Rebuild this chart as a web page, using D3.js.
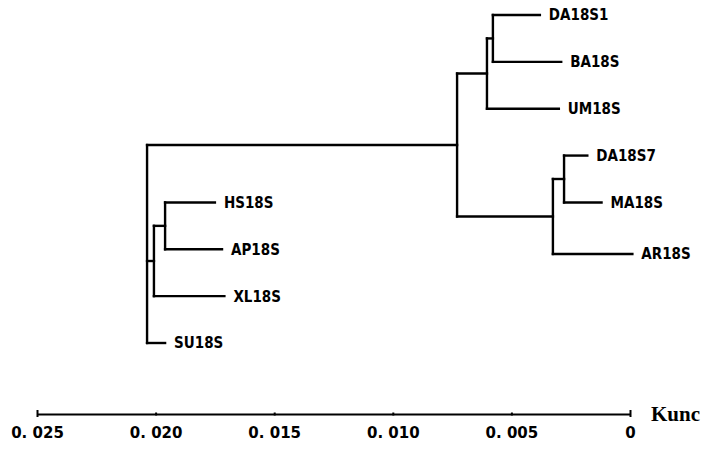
<!DOCTYPE html>
<html>
<head>
<meta charset="utf-8">
<script src="https://cdn.jsdelivr.net/npm/d3@7"></script>
<style>
  body { margin: 0; background: #fff; }
  .leaf { font-family: "Liberation Sans Narrow", "DejaVu Sans Condensed", sans-serif; font-weight: bold; font-size: 15px; }
  .axis text { font-family: "DejaVu Sans", sans-serif; font-weight: bold; font-size: 15px; }
</style>
</head>
<body>
<div class="chart"></div>
<script>
var svgWidth = 704;
var svgHeight = 449;

// leaves: name, distance reading on the scale where the branch ends, row in the drawing
var leafNames = ["DA18S1", "BA18S", "UM18S", "DA18S7", "MA18S", "AR18S", "HS18S", "AP18S", "XL18S", "SU18S"];
var leafDist = [0.0038, 0.0029, 0.0030, 0.0018, 0.0012, -0.0001, 0.0175, 0.0172, 0.0171, 0.0196];
var leafRow = [0, 1, 2, 3, 4, 5.1, 4, 5, 6, 7];

// internal nodes: distance reading and their children
var nodeNames = ["n1", "n2", "n3", "n4", "n5", "n6", "n7", "root"];
var nodeDist = [0.00578, 0.00603, 0.00278, 0.00325, 0.00729, 0.0196, 0.02007, 0.02036];
var nodeChildren = [
  ["DA18S1", "BA18S"],
  ["n1", "UM18S"],
  ["DA18S7", "MA18S"],
  ["n3", "AR18S"],
  ["n2", "n4"],
  ["HS18S", "AP18S"],
  ["n6", "XL18S"],
  ["n5", "n7", "SU18S"]
];

var axisTicks = [0.025, 0.020, 0.015, 0.010, 0.005, 0];

var svg = d3.select(".chart")
  .append("svg")
  .attr("width", svgWidth)
  .attr("height", svgHeight);

var x = d3.scaleLinear().domain([0.025, 0]).range([37, 630]);
var y = d3.scaleLinear().domain([0, 7]).range([15, 343]);

// build nested tree from the arrays
function build(name) {
  var i = nodeNames.indexOf(name);
  if (i < 0) {
    var j = leafNames.indexOf(name);
    return { name: name, dist: leafDist[j], row: leafRow[j] };
  }
  return { name: name, dist: nodeDist[i], children: nodeChildren[i].map(build) };
}

var root = d3.hierarchy(build("root"));

// row of an internal node = midpoint of its first and last child
root.eachAfter(function(d) {
  if (d.children) {
    var rows = d.children.map(c => c.data.row);
    d.data.row = (d3.min(rows) + d3.max(rows)) / 2;
  }
});

var g = svg.append("g")
  .attr("fill", "none")
  .attr("stroke", "#000")
  .attr("stroke-width", 2.4)
  .attr("stroke-linecap", "square");

root.descendants().filter(d => d.children).forEach(function(d) {
  var rows = d.children.map(c => c.data.row);
  g.append("line")
    .attr("x1", x(d.data.dist)).attr("x2", x(d.data.dist))
    .attr("y1", y(d3.min(rows))).attr("y2", y(d3.max(rows)));
  d.children.forEach(function(c) {
    g.append("line")
      .attr("x1", x(d.data.dist)).attr("x2", x(c.data.dist))
      .attr("y1", y(c.data.row)).attr("y2", y(c.data.row));
  });
});

svg.selectAll(".leaf")
  .data(root.leaves())
  .enter()
  .append("text")
  .attr("class", "leaf")
  .attr("x", d => x(d.data.dist) + 9)
  .attr("y", d => y(d.data.row))
  .attr("dy", "0.36em")
  .text(d => d.data.name);

// scale bar
var axis = d3.axisBottom(x)
  .tickValues(axisTicks)
  .tickSize(0)
  .tickSizeOuter(0)
  .tickPadding(13)
  .tickFormat(d => d === 0 ? "0" : d3.format(".3f")(d).replace(".", ". "));

var axisG = svg.append("g")
  .attr("class", "axis")
  .attr("transform", "translate(0,414)")
  .call(axis);

axisG.select(".domain").attr("stroke-width", 2);
axisG.selectAll(".tick line")
  .attr("stroke-width", 2)
  .attr("y1", d => (d === 0 || d === 0.025) ? -4 : -1.5)
  .attr("y2", d => (d === 0 || d === 0.025) ? 3 : 1.5);
axisG.selectAll(".tick text").attr("fill", "#000");

svg.append("text")
  .attr("x", 651)
  .attr("y", 421)
  .attr("font-family", "Liberation Serif, serif")
  .attr("font-weight", "bold")
  .attr("font-size", 21)
  .text("Kunc");
</script>
</body>
</html>
